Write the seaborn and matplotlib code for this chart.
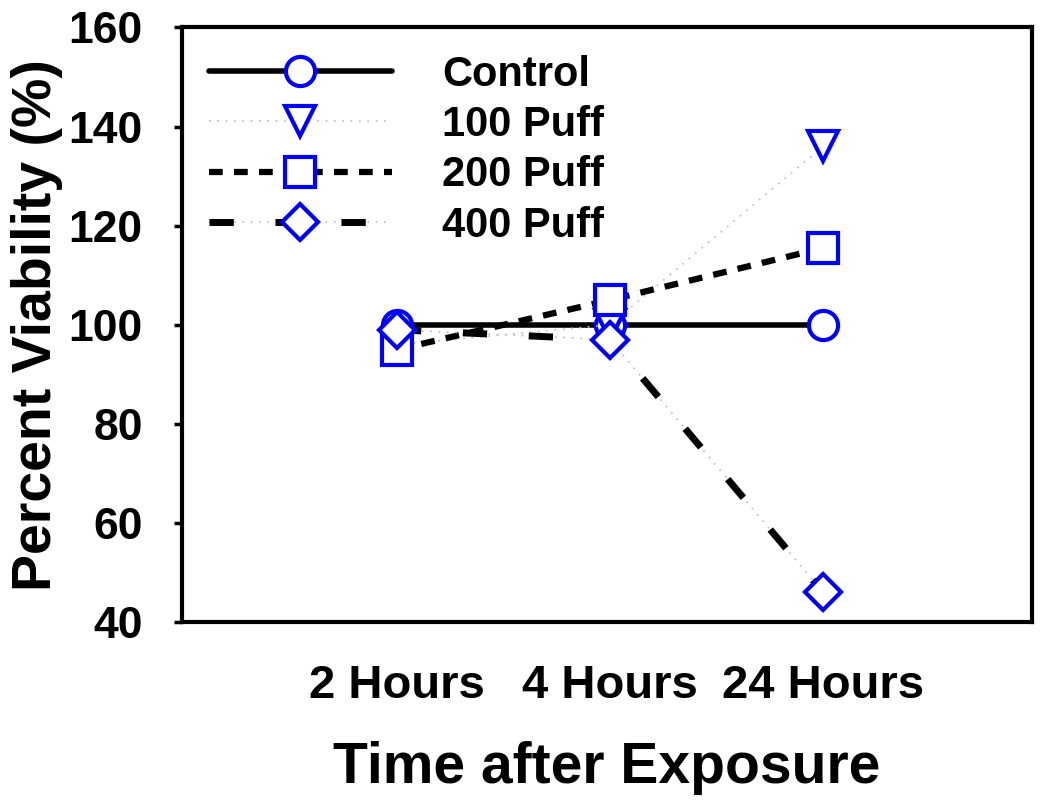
import matplotlib
matplotlib.use("Agg")
import matplotlib.pyplot as plt
import seaborn as sns
from matplotlib.legend_handler import HandlerTuple

# data
times = ["2 Hours", "4 Hours", "24 Hours"]
control = [100, 100, 100]
puff_100 = [96, 100, 136]
puff_200 = [95, 105, 115.5]
puff_400 = [99, 97, 46]

sns.set_theme(style="white")
plt.rcParams["font.family"] = ["Liberation Sans", "DejaVu Sans"]
plt.rcParams["font.weight"] = "bold"
for k in ["text.color", "axes.labelcolor", "xtick.color", "ytick.color"]:
    plt.rcParams[k] = "black"

fig, ax = plt.subplots(figsize=(10.5, 8.07), dpi=100)
x = list(range(len(times)))
blue = "#0000ff"
mk = dict(markersize=21, markerfacecolor="white", markeredgecolor=blue, markeredgewidth=3)

sns.lineplot(x=x, y=control, ax=ax, color="black", lw=4, marker="o", **mk)
h_ctrl = ax.lines[-1]

sns.lineplot(x=x, y=puff_100, ax=ax, color="#bbbbbb", lw=1.2, linestyle=(0, (1, 4)),
             marker="v", **mk)
h_100 = ax.lines[-1]

sns.lineplot(x=x, y=puff_200, ax=ax, color="black", lw=4.5, linestyle=(0, (2.2, 1.8)),
             marker="s", **mk)
h_200 = ax.lines[-1]

sns.lineplot(x=x, y=puff_400, ax=ax, color="#bbbbbb", lw=1.2, linestyle=(0, (1, 4)))
h_400a = ax.lines[-1]
sns.lineplot(x=x, y=puff_400, ax=ax, color="black", lw=5, linestyle=(0, (3.5, 6)),
             marker="D", **{**mk, "markersize": 18})
h_400b = ax.lines[-1]

ax.set_xlim(-1.01, 2.98)
ax.set_ylim(40, 160)
ax.set_yticks(range(40, 161, 20))
ax.set_xticks(x)
ax.set_xticklabels(times)
ax.tick_params(axis="y", direction="out", length=6, width=2.5, labelsize=32, left=True, pad=22)
ax.tick_params(axis="x", length=0, labelsize=34, pad=30)
for s in ax.spines.values():
    s.set_linewidth(3)
    s.set_color("black")

ax.set_xlabel("Time after Exposure", fontsize=41, fontweight="bold", labelpad=24)
ax.set_ylabel("Percent Viability (%)", fontsize=40, fontweight="bold", labelpad=4)

ax.legend([h_ctrl, h_100, h_200, (h_400a, h_400b)],
          ["Control", "100 Puff", "200 Puff", "400 Puff"],
          handler_map={tuple: HandlerTuple(ndivide=1)},
          loc="upper left", frameon=False, fontsize=30, handlelength=4.4,
          handletextpad=1.2, labelspacing=0.25, borderaxespad=0.2,
          borderpad=0.45)

fig.subplots_adjust(left=0.173, right=0.983, top=0.966, bottom=0.229)
fig.savefig("out.png", dpi=100)
